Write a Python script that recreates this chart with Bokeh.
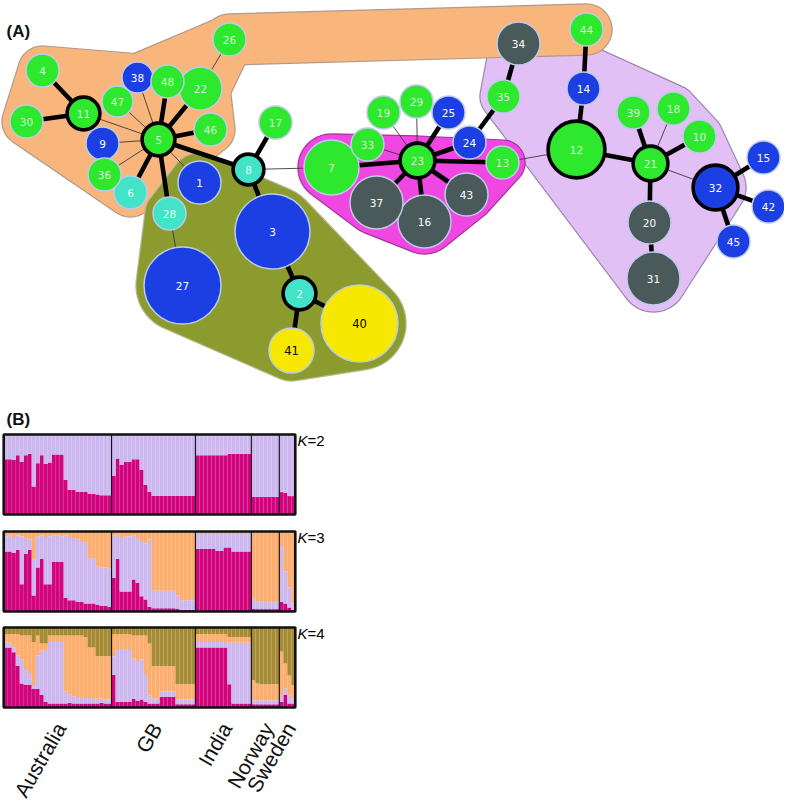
import numpy as np
from bokeh.plotting import figure
from bokeh.models import Range1d, ColumnDataSource
from bokeh.embed import file_html
from bokeh.resources import INLINE
from bokeh.core.properties import value

# ---------------- (A) haplotype network ----------------
hap_id = list(range(1, 49))
hap_x = [199, 299, 272, 42, 158, 130, 331, 248, 102, 699, 83, 576, 502, 583, 763, 424,
         275, 673, 383, 649, 650, 200, 417, 469, 448, 229, 182, 169, 416, 26, 653, 715,
         367, 518, 503, 104, 376, 137, 633, 359, 291, 768, 466, 586, 733, 210, 117, 167]
hap_y = [182, 293, 231, 70, 139, 192, 167, 169, 143, 136, 113, 149, 162, 88, 157, 221,
         122, 108, 112, 222, 163, 88, 160, 142, 112, 39, 285, 213, 101, 121, 278, 187,
         144, 43, 96, 174, 202, 77, 112, 323, 350, 206, 194, 29, 241, 129, 101, 81]
hap_r = [22, 18, 38, 17, 18, 17, 28, 17, 17, 17, 18, 30, 17, 17, 17, 27,
         17, 17, 17, 22, 19, 22, 19, 17, 17, 17, 39, 17, 17, 17, 27, 24,
         17, 22, 17, 17, 27, 16, 17, 39, 23, 17, 22, 17, 17, 17, 16, 17]
hap_type = ["B", "T", "B", "G", "G", "T", "G", "T", "B", "G", "G", "G", "G", "B", "B", "D",
            "G", "G", "G", "D", "G", "G", "G", "B", "B", "G", "B", "T", "G", "G", "D", "B",
            "G", "D", "G", "G", "D", "B", "G", "Y", "Y", "B", "D", "G", "B", "G", "G", "G"]
hap_bold = [2, 5, 8, 11, 12, 21, 23, 32]

edge_a = [11, 11, 11, 5, 5, 5, 5, 5, 5, 5, 5, 5, 5, 5, 22, 8, 8, 8, 3, 2, 2, 28,
          23, 23, 23, 23, 23, 23, 23, 23, 23, 23, 24, 35, 13, 44, 14, 12, 21, 21, 21,
          21, 21, 20, 32, 32, 32]
edge_b = [4, 30, 5, 47, 38, 48, 22, 46, 9, 36, 6, 28, 1, 8, 26, 17, 3, 7, 2, 40, 41, 27,
          7, 33, 19, 29, 25, 24, 13, 43, 16, 37, 35, 34, 12, 14, 12, 21, 39, 18, 10,
          20, 32, 31, 15, 42, 45]
edge_thick = [1, 1, 0, 0, 0, 1, 1, 1, 0, 0, 1, 1, 0, 1, 0, 1, 1, 0, 1, 1, 1, 0,
              1, 0, 0, 0, 1, 1, 1, 1, 1, 1, 1, 1, 0, 1, 1, 1, 1, 0, 1,
              1, 0, 1, 1, 1, 1]

# background groups (drawn in this order), each a list of convex parts
hull_fill = ["#e2bff4", "#f8b67c", "#8c9b2e", "#f046e2"]
hull_line = ["#9a88aa", "#b09a8c", "#b8b898", "#a0389a"]
hull_parts = [
    [[34, 35, 14, 12, 21, 39, 18, 10, 32, 20, 31]],
    [[4, 30, 11, 47, 38, 48, 22, 46, 5, 9, 36, 6], [38, 48, 22, 26], [26, 44]],
    [[28, 1, 3, 27, 2, 40, 41]],
    [[7, 37, 16, 43, 23, 13]],
]
hull_pad = [[6], [7, 7, 8], [7], [5]]

type_fill = {"G": "#2de82d", "B": "#1c3fe3", "T": "#42e3c6", "D": "#4a5959", "Y": "#f6e800"}
type_text = {"G": "#d4f7d4", "B": "#ffffff", "T": "#e6fff9", "D": "#ffffff", "Y": "#000000"}

# ---------------- (B) admixture bars ----------------
pops = ["Australia", "GB", "India", "Norway", "Sweden"]
pop_n = [27, 21, 14, 7, 4]

k2_pink = [.69, .69, .68, .74, .66, .74, .76, .35, .64, .74, .63, .65, .75, .75, .75, .43, .31, .31, .28, .28, .28, .26, .26, .25, .24, .24, .24,
           .48, .70, .62, .66, .66, .69, .69, .56, .37, .28, .23, .23, .23, .23, .23, .23, .23, .23, .23, .23, .23,
           .74, .74, .74, .74, .74, .74, .74, .74, .76, .76, .76, .76, .76, .76,
           .22, .22, .22, .22, .22, .22, .22,
           .28, .27, .23, .23]

k3_pink = [.75, .75, .73, .77, .34, .72, .77, .20, .55, .66, .34, .34, .62, .62, .62, .17, .14, .14, .12, .12, .10, .10, .10, .08, .07, .07, .06,
           .42, .66, .25, .25, .25, .40, .36, .19, .15, .06, .04, .04, .04, .04, .04, .04, .03, .02, .02, .02, .02,
           .78, .78, .78, .78, .78, .76, .76, .80, .80, .75, .75, .75, .75, .75,
           .03, .03, .03, .03, .03, .03, .03,
           .12, .10, .05, .02]
k3_orange = [.06, .05, .07, .05, .06, .08, .10, .35, .06, .05, .07, .06, .05, .05, .06, .05, .07, .08, .10, .12, .14, .33, .34, .44, .45, .45, .46,
             .05, .04, .08, .06, .06, .05, .08, .12, .15, .10, .74, .74, .74, .74, .74, .74, .80, .86, .86, .86, .86,
             .03, .03, .03, .03, .03, .03, .03, .03, .03, .03, .03, .03, .03, .03,
             .84, .87, .88, .88, .88, .88, .88,
             .18, .50, .70, .90]

k4_pink = [.75, .75, .69, .52, .30, .28, .28, .23, .23, .16, .07, .05, .05, .05, .05, .05, .06, .05, .05, .05, .05, .05, .05, .05, .06, .05, .05,
           .41, .07, .07, .07, .07, .11, .08, .10, .07, .05, .05, .05, .13, .13, .13, .13, .04, .04, .04, .04, .04,
           .75, .75, .75, .75, .75, .75, .75, .75, .29, .05, .05, .05, .05, .05,
           .04, .04, .04, .04, .04, .04, .04,
           .07, .16, .05, .05]
k4_lilac = [.06, .06, .06, .13, .30, .20, .15, .05, .42, .55, .65, .77, .77, .77, .77, .15, .10, .09, .08, .08, .07, .07, .06, .06, .05, .05, .05,
            .23, .66, .66, .66, .66, .50, .50, .50, .35, .10, .06, .06, .07, .07, .07, .07, .06, .06, .06, .06, .06,
            .07, .07, .07, .07, .07, .07, .07, .07, .52, .76, .76, .76, .76, .76,
            .05, .05, .05, .05, .05, .05, .05,
            .08, .08, .10, .06]
k4_olive = [.08, .08, .08, .08, .10, .10, .10, .18, .10, .20, .20, .10, .10, .10, .10, .10, .10, .10, .10, .10, .12, .25, .25, .36, .36, .36, .36,
            .08, .08, .08, .08, .08, .10, .10, .10, .10, .20, .48, .48, .48, .48, .48, .48, .71, .71, .71, .71, .71,
            .08, .08, .08, .08, .08, .08, .08, .08, .12, .12, .12, .12, .12, .12,
            .66, .70, .71, .71, .71, .71, .71,
            .30, .45, .60, .72]

c_pink, c_lilac, c_orange, c_olive = "#d1047e", "#ccb8ee", "#fbae6e", "#a68b35"

# ---------------- figure ----------------
W, H = 784, 800
p = figure(width=W, height=H, x_range=Range1d(0, W), y_range=Range1d(H, 0),
           toolbar_location=None, output_backend="svg", x_axis_location=None,
           y_axis_location=None, min_border=0, outline_line_color=None)
p.grid.visible = False
p.background_fill_color = "white"

idx = {h: i for i, h in enumerate(hap_id)}


def hull_polygon(ids, pad):
    pts = []
    for h in ids:
        i = idx[h]
        rr = hap_r[i] + pad
        for t in np.linspace(0, 2 * np.pi, 72, endpoint=False):
            pts.append((hap_x[i] + rr * np.cos(t), hap_y[i] + rr * np.sin(t)))
    pts = sorted(set(pts))

    def cross(o, a, b):
        return (a[0] - o[0]) * (b[1] - o[1]) - (a[1] - o[1]) * (b[0] - o[0])

    lower, upper = [], []
    for pt in pts:
        while len(lower) >= 2 and cross(lower[-2], lower[-1], pt) <= 0:
            lower.pop()
        lower.append(pt)
    for pt in reversed(pts):
        while len(upper) >= 2 and cross(upper[-2], upper[-1], pt) <= 0:
            upper.pop()
        upper.append(pt)
    poly = lower[:-1] + upper[:-1]
    return [q[0] for q in poly], [q[1] for q in poly]


for g in range(len(hull_parts)):
    xs, ys = [], []
    for part, pad in zip(hull_parts[g], hull_pad[g]):
        hx, hy = hull_polygon(part, pad)
        xs.append(hx)
        ys.append(hy)
    p.patches(xs, ys, fill_color=hull_fill[g], line_color=hull_line[g], line_width=2.4)
    p.patches(xs, ys, fill_color=hull_fill[g], line_color=None)

# edges
for thick, lw, col in [(0, 0.9, "#3a3a3a"), (1, 4.6, "#000000")]:
    exs, eys = [], []
    for a, b, t in zip(edge_a, edge_b, edge_thick):
        if t == thick:
            exs.append([hap_x[idx[a]], hap_x[idx[b]]])
            eys.append([hap_y[idx[a]], hap_y[idx[b]]])
    p.multi_line(exs, eys, line_color=col, line_width=lw)

# nodes
bold = [h in hap_bold for h in hap_id]
node_src = ColumnDataSource(dict(
    x=hap_x, y=hap_y,
    r=[r - 1.6 if b else r - 0.5 for r, b in zip(hap_r, bold)],
    fill=[type_fill[t] for t in hap_type],
    line=["#000000" if b else "#bccbe9" for b in bold],
    lw=[3.6 if b else 1.5 for b in bold],
    label=[str(h) for h in hap_id],
    tcol=[type_text[t] for t in hap_type],
    tsize=["11.5px" if t == "Y" else "10.5px" for t in hap_type],
))
p.circle(x="x", y="y", radius="r", fill_color="fill", line_color="line",
         line_width="lw", source=node_src)
p.text(x="x", y="y", text="label", text_color="tcol", text_font_size="tsize",
       text_align="center", text_baseline="middle", text_font=value("DejaVu Sans"),
       source=node_src)

# panel labels
p.text(x=[6, 6], y=[21, 409], text=["(A)", "(B)"], text_font=value("Liberation Sans"),
       text_font_style="bold", text_font_size="17px", text_baseline="top", text_color="#111111")

# admixture panels
bar_x0, bar_x1 = 3.2, 294.8
n_ind = sum(pop_n)
bw = (bar_x1 - bar_x0) / n_ind
panel_top = [434.0, 531.0, 627.0]
panel_h = 80.0
k_labels = ["2", "3", "4"]

k2_stack = [k2_pink, [1 - a for a in k2_pink]]
k3_stack = [k3_pink, [1 - a - b for a, b in zip(k3_pink, k3_orange)], k3_orange]
k4_stack = [k4_pink, k4_lilac, [1 - a - b - c for a, b, c in zip(k4_pink, k4_lilac, k4_olive)], k4_olive]
stacks = [(k2_stack, [c_pink, c_lilac]),
          (k3_stack, [c_pink, c_lilac, c_orange]),
          (k4_stack, [c_pink, c_lilac, c_orange, c_olive])]

bounds = np.cumsum([0] + pop_n)
for (stack, cols), top, kl in zip(stacks, panel_top, k_labels):
    bottom = top + panel_h
    cum = np.zeros(n_ind)
    for comp, col in zip(stack, cols):
        comp = np.array(comp)
        left = bar_x0 + bw * np.arange(n_ind)
        p.quad(left=left, right=left + bw + 0.15, bottom=bottom - cum * panel_h,
               top=bottom - (cum + comp) * panel_h, fill_color=col, line_color=None)
        cum = cum + comp
    # faint separators between individuals
    sep_x = bar_x0 + bw * np.arange(1, n_ind)
    p.segment(x0=sep_x, x1=sep_x, y0=[top] * len(sep_x), y1=[bottom] * len(sep_x),
              line_color="white", line_alpha=0.12, line_width=0.6)
    # population dividers
    dx = bar_x0 + bw * bounds[1:-1]
    p.segment(x0=dx, x1=dx, y0=[top] * len(dx), y1=[bottom] * len(dx),
              line_color="#111111", line_width=1.1)
    p.quad(left=[bar_x0], right=[bar_x1], top=[top], bottom=[bottom],
           fill_color=None, line_color="#111111", line_width=2.6)
    p.text(x=[297], y=[top - 3], text=["K"], text_font=value("Liberation Sans"),
           text_font_style="italic", text_font_size="15px", text_baseline="top")
    p.text(x=[307], y=[top - 3], text=["=" + kl], text_font=value("Liberation Sans"),
           text_font_size="15px", text_baseline="top")

# population names (rotated)
centers = bar_x0 + bw * (bounds[:-1] + bounds[1:]) / 2.0
p.text(x=centers + 3, y=[724] * len(pops), text=pops, angle=np.pi / 3,
       text_align="right", text_baseline="middle", text_font=value("Liberation Sans"),
       text_font_size="21px", text_color="#111111")

open("out.html", "w").write(file_html(p, INLINE))
